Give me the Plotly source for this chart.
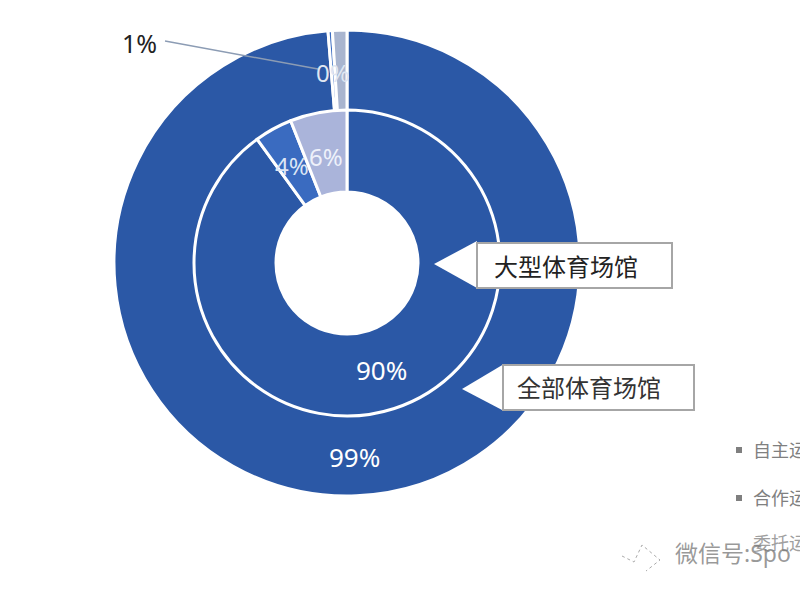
# -*- coding:utf-8 -*-
import plotly.graph_objects as go

W, H = 800, 600
CX, CY = 347, 263  # 圆心像素位置

# 外环:全部体育场馆
outer_values = [98.7, 0.3, 1.0]
outer_colors = ["#2b58a6", "#3a6bc0", "#a9b5cf"]
# 内环:大型体育场馆
inner_values = [90, 4, 6]
inner_colors = ["#2b58a6", "#3a6bc0", "#aab4da"]

inner_labels = ["90%", "4%", "6%"]
outer_labels = ["99%", "0%", "1%"]
callouts = ["大型体育场馆", "全部体育场馆"]
legend_names = ["自主运", "合作运", "委托运"]  # 原图右边被截断,只留看得见的字
watermark = "微信号:Spo"


def px(x):
    return x / W


def py(y):
    return 1 - y / H


def ring(values, colors, r, hole):
    return go.Pie(
        values=values,
        sort=False,
        direction="clockwise",
        rotation=0,
        hole=hole,
        textinfo="none",
        hoverinfo="skip",
        showlegend=False,
        marker=dict(colors=colors, line=dict(color="white", width=3)),
        domain=dict(x=[px(CX - r), px(CX + r)], y=[py(CY + r), py(CY - r)]),
    )


fig = go.Figure()
fig.add_trace(ring(outer_values, outer_colors, 233, 152 / 233))
fig.add_trace(ring(inner_values, inner_colors, 153, 71 / 153))


def label(x, y, text, size=26, color="white", xanchor="center", **kw):
    fig.add_annotation(x=px(x), y=py(y), xref="paper", yref="paper", text=text, showarrow=False,
                       xanchor=xanchor, yanchor="middle",
                       font=dict(size=size, color=color, family="Noto Sans, Noto Sans CJK SC"), **kw)


def triangle(tip, top, bottom):
    path = "M %f %f L %f %f L %f %f Z" % (px(tip[0]), py(tip[1]), px(top[0]), py(top[1]), px(bottom[0]), py(bottom[1]))
    fig.add_shape(type="path", xref="paper", yref="paper", path=path, fillcolor="white", line=dict(width=0))


def box(x0, x1, y0, y1):
    fig.add_shape(type="rect", xref="paper", yref="paper", x0=px(x0), x1=px(x1), y0=py(y1), y1=py(y0),
                  fillcolor="white", line=dict(color="#a6a6a6", width=2))


# 1% 的引线
fig.add_shape(type="line", xref="paper", yref="paper", x0=px(165), y0=py(41), x1=px(318), y1=py(69),
              line=dict(color="#8c9cb4", width=1.5))

# 百分比标签
label(381, 370, inner_labels[0])
label(292, 166, inner_labels[1], size=24, color="#dce6f5")
label(326, 156, inner_labels[2], size=24, color="#eef1fa")
label(354, 457, outer_labels[0])
label(333, 72, outer_labels[1], size=24, color="#dfe6f2")
label(139, 43, outer_labels[2], size=25, color="#222222")

# 两个标注框
triangle((434, 264), (477, 241), (477, 288))
triangle((462, 389), (504, 364), (504, 411))
box(477, 672, 243, 288)
box(503, 694, 365, 410)
label(566, 266, callouts[0], size=24, color="#222222")
label(589, 388, callouts[1], size=24, color="#333333")

# 图例,右边被截断
for name, y in zip(legend_names, [450, 498, 543]):
    label(751, y, name, size=18, color="#a0a0a0" if y > 520 else "#808080", xanchor="left")
for y in [450, 498]:
    fig.add_shape(type="rect", xref="paper", yref="paper", x0=px(736), x1=px(742), y0=py(y + 3), y1=py(y - 3),
                  fillcolor="#7f7f7f", line=dict(width=0))

# 水印
label(673, 553, watermark, size=23, color="rgba(120,120,120,0.75)", xanchor="left")
bird = "M %f %f L %f %f L %f %f L %f %f L %f %f" % (
    px(622), py(556), px(634), py(562), px(642), py(545), px(660), py(560), px(646), py(571))
fig.add_shape(type="path", xref="paper", yref="paper", path=bird,
              line=dict(color="#aaaaaa", width=1, dash="dot"))

fig.update_layout(width=W, height=H, margin=dict(l=0, r=0, t=0, b=0), paper_bgcolor="white")
fig.write_html("out.html", config={"displayModeBar": False},
               post_script="document.body.style.margin='0';document.body.style.overflow='hidden';")
